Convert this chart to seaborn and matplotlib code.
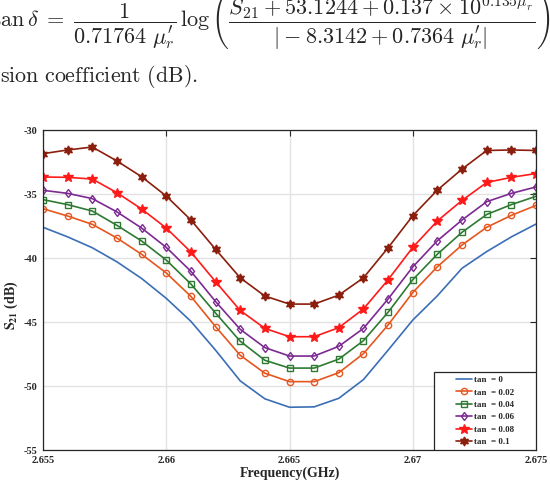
import matplotlib
matplotlib.use('Agg')
import matplotlib.pyplot as plt
import seaborn as sns
from matplotlib.patches import Rectangle

# frequency points (GHz)
freq = [2.655, 2.656, 2.657, 2.658, 2.659, 2.660, 2.661, 2.662, 2.663, 2.664, 2.665,
        2.666, 2.667, 2.668, 2.669, 2.670, 2.671, 2.672, 2.673, 2.674, 2.675]

# S21 (dB) for each loss tangent
s21_000 = [-37.60, -38.35, -39.20, -40.30, -41.60, -43.15, -44.95, -47.20, -49.60, -51.00, -51.66,
           -51.63, -50.96, -49.50, -47.20, -44.85, -42.95, -40.80, -39.50, -38.35, -37.35]
s21_002 = [-36.15, -36.72, -37.37, -38.44, -39.71, -41.17, -43.00, -45.36, -47.60, -49.00, -49.66,
           -49.66, -48.96, -47.47, -45.23, -42.70, -40.68, -38.98, -37.60, -36.67, -35.89]
s21_004 = [-35.44, -35.83, -36.33, -37.45, -38.67, -40.16, -42.03, -44.30, -46.50, -47.99, -48.60,
           -48.60, -47.90, -46.46, -44.24, -41.70, -39.70, -37.99, -36.60, -35.83, -35.18]
s21_006 = [-34.71, -34.95, -35.36, -36.40, -37.66, -39.17, -41.04, -43.40, -45.57, -47.00, -47.66,
           -47.66, -46.90, -45.50, -43.20, -40.70, -38.65, -37.03, -35.60, -34.95, -34.45]
s21_008 = [-33.67, -33.70, -33.83, -34.90, -36.17, -37.66, -39.53, -41.85, -44.10, -45.50, -46.15,
           -46.15, -45.44, -43.98, -41.70, -39.17, -37.10, -35.50, -34.10, -33.70, -33.40]
s21_010 = [-31.85, -31.56, -31.33, -32.42, -33.65, -35.16, -37.03, -39.32, -41.55, -42.97, -43.60,
           -43.60, -42.90, -41.55, -39.20, -36.70, -34.69, -33.05, -31.60, -31.56, -31.60]

labels = ['tan  = 0', 'tan  = 0.02', 'tan  = 0.04', 'tan  = 0.06', 'tan  = 0.08', 'tan  = 0.1']
series = [s21_000, s21_002, s21_004, s21_006, s21_008, s21_010]

xticks = [2.655, 2.66, 2.665, 2.67, 2.675]
xtick_labels = ['2.655', '2.66', '2.665', '2.67', '2.675']
yticks = [-55, -50, -45, -40, -35, -30]
ytick_labels = ['-55', '-50', '-45', '-40', '-35', '-30']

sns.set_theme(style='white')
plt.rcParams['font.family'] = ['Liberation Serif', 'DejaVu Serif']
plt.rcParams['font.weight'] = 'bold'
plt.rcParams['mathtext.fontset'] = 'stix'

colors = ['#3A6EB5', '#E6561F', '#2E7A32', '#7C2A92', '#FF1A1A', '#8B1E0C']
markers = [None, 'o', 's', 'd', '*', (6, 1, 0)]
msizes = [0, 4.5, 4, 4.5, 7, 6.5]
mfaces = ['none', 'none', 'none', 'none', '#FF1A1A', '#8B1E0C']

fig = plt.figure(figsize=(5.5, 4.84), dpi=100)

# header lines of the page the chart was clipped from
eq = (r"$\tan\delta \;=\; \dfrac{1}{0.71764\ \mu^{\prime}_{r}}\,\log\left(\dfrac{S_{21} + 53.1244 + "
      r"0.137 \times 10^{0.135\mu^{\prime}_{r}}}{|-8.3142 + 0.7364\ \mu^{\prime}_{r}|}\right),$")
fig.text(-0.015, 1 - 26.7 / 484, eq, fontsize=16, math_fontfamily='cm', va='baseline', ha='left',
         fontweight='normal')
fig.text(0.0, 1 - 81.5 / 484, r"$\mathrm{sion\ coefficient\ (dB).}$", fontsize=15.8,
         math_fontfamily='cm', va='baseline', ha='left', fontweight='normal')

ax = fig.add_axes([43 / 550, 34 / 484, 493 / 550, 320 / 484])

for vals, lab, c, m, ms, mf in zip(series, labels, colors, markers, msizes, mfaces):
    sns.lineplot(x=freq, y=vals, ax=ax, color=c, marker=m, markersize=ms, mfc=mf, mec=c,
                 mew=1.0, linewidth=1.2, label=lab, legend=False)

ax.set_xlim(2.655, 2.675)
ax.set_ylim(-55, -30)
ax.set_xticks(xticks)
ax.set_xticklabels(xtick_labels)
ax.set_yticks(yticks)
ax.set_yticklabels(ytick_labels)
ax.grid(True, color='#e2e2e2', linewidth=1.0)
ax.set_axisbelow(True)
ax.tick_params(direction='in', length=4, width=0.8, top=True, right=True, labelsize=7.5,
               colors='#262626', pad=4)
for lbl in ax.get_xticklabels() + ax.get_yticklabels():
    lbl.set_fontweight('bold')
for sp in ax.spines.values():
    sp.set_color('#262626')
    sp.set_linewidth(0.9)

ax.set_xlabel('Frequency(GHz)', fontsize=10, fontweight='bold', color='#262626')
ax.set_ylabel(r'$\mathbf{S_{21}}$ (dB)', fontsize=10, fontweight='bold', color='#262626')
ax.xaxis.set_label_coords(0.5, -0.053)
ax.yaxis.set_label_coords(-0.047, 0.453)

# legend box (MATLAB style, wide side padding)
x0 = (434 - 43) / 493
h = (450 - 372) / 320
ax.add_patch(Rectangle((x0, 0), 1 - x0, h, transform=ax.transAxes, facecolor='white',
                       edgecolor='#262626', linewidth=0.9, zorder=5))
handles, labs = ax.get_legend_handles_labels()
leg = ax.legend(handles, labs, loc='center', bbox_to_anchor=((x0 + 1) / 2, h / 2),
                frameon=False, handlelength=1.7, handletextpad=0.2,
                labelspacing=0.45, borderpad=0.2, prop={'weight': 'bold', 'size': 6.5})
leg.set_zorder(6)

fig.savefig('out.png', dpi=100)
